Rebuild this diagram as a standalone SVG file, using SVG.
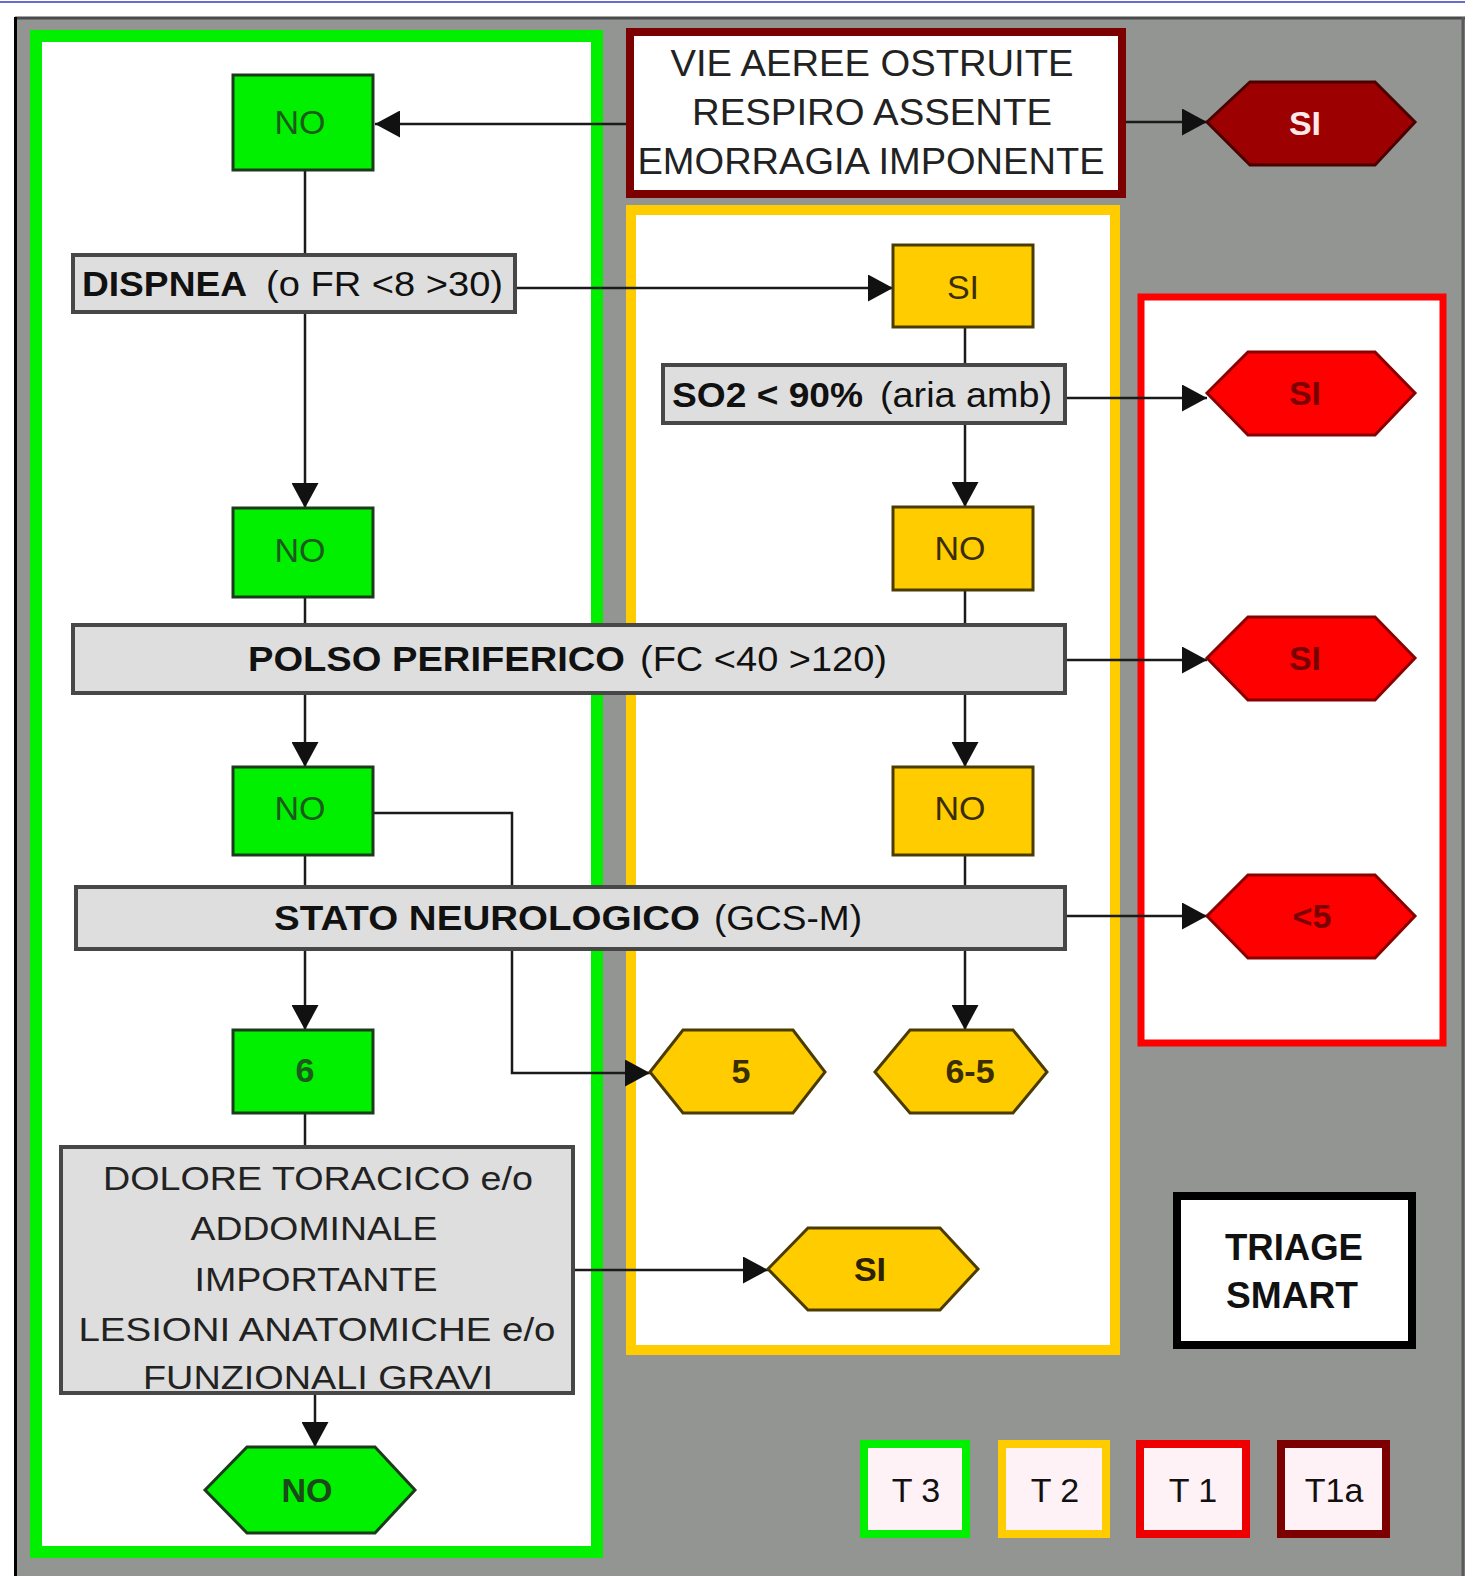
<svg xmlns="http://www.w3.org/2000/svg" width="1465" height="1576" viewBox="0 0 1465 1576">
<style>
text{font-family:"Liberation Sans",Arial,sans-serif;}
.gbox{fill:#00f000;stroke:#1c3a1c;stroke-width:3;}
.ybox{fill:#ffcc00;stroke:#4a3c00;stroke-width:3;}
.cbox{fill:#dedede;stroke:#474747;stroke-width:4;}
.conn{fill:none;stroke:#1a1a1a;stroke-width:2.5;}
.b{font-weight:bold;}
.t35{font-size:35px;fill:#111;}
.tg{font-size:34px;fill:#1d5a1d;text-anchor:middle;}
.ty{font-size:34px;fill:#3a2e00;text-anchor:middle;}
.hx{font-size:34px;font-weight:bold;text-anchor:middle;}
.mid{text-anchor:middle;}
</style>
<defs>
<marker id="ah" viewBox="0 0 25 27" refX="25" refY="13.5" markerWidth="25" markerHeight="27" markerUnits="userSpaceOnUse" orient="auto">
<path d="M0,0 L25,13.5 L0,27 z" fill="#111"/>
</marker>
</defs>

<!-- background -->
<rect x="0" y="0" width="1465" height="1576" fill="#ffffff"/>
<line x1="0" y1="2" x2="1465" y2="2" stroke="#6a6ad0" stroke-width="2"/>
<rect x="15" y="17" width="1450" height="1559" fill="#939593"/>
<line x1="15" y1="18" x2="1465" y2="18" stroke="#4a4a4a" stroke-width="3"/>
<line x1="15.5" y1="17" x2="15.5" y2="1576" stroke="#000" stroke-width="3"/>
<line x1="1463" y1="17" x2="1463" y2="1576" stroke="#5a5a5a" stroke-width="3"/>

<!-- frames -->
<g id="frame-green"><rect x="36" y="36" width="561" height="1516" fill="#fff" stroke="#00f000" stroke-width="12"/></g>
<g id="frame-yellow"><rect x="631" y="210" width="484" height="1140" fill="#fff" stroke="#ffcc00" stroke-width="10"/></g>
<g id="frame-red"><rect x="1141" y="297" width="302" height="746" fill="#fff" stroke="#ff0000" stroke-width="7"/></g>

<!-- connectors -->
<g id="connectors">
<line class="conn" x1="627" y1="124" x2="375" y2="124" marker-end="url(#ah)"/>
<line class="conn" x1="1126" y1="122" x2="1207" y2="122" marker-end="url(#ah)"/>
<line class="conn" x1="305" y1="170" x2="305" y2="255"/>
<line class="conn" x1="515" y1="288" x2="893" y2="288" marker-end="url(#ah)"/>
<line class="conn" x1="305" y1="312" x2="305" y2="508" marker-end="url(#ah)"/>
<line class="conn" x1="305" y1="597" x2="305" y2="625"/>
<line class="conn" x1="305" y1="693" x2="305" y2="767" marker-end="url(#ah)"/>
<line class="conn" x1="305" y1="855" x2="305" y2="887"/>
<line class="conn" x1="305" y1="949" x2="305" y2="1030" marker-end="url(#ah)"/>
<line class="conn" x1="305" y1="1113" x2="305" y2="1147"/>
<line class="conn" x1="315" y1="1393" x2="315" y2="1447" marker-end="url(#ah)"/>
<line class="conn" x1="573" y1="1270" x2="768" y2="1270" marker-end="url(#ah)"/>
<polyline class="conn" points="373,813 512,813 512,887"/>
<polyline class="conn" points="512,949 512,1073 650,1073" marker-end="url(#ah)"/>
<line class="conn" x1="965" y1="327" x2="965" y2="365"/>
<line class="conn" x1="1065" y1="398" x2="1207" y2="398" marker-end="url(#ah)"/>
<line class="conn" x1="965" y1="423" x2="965" y2="507" marker-end="url(#ah)"/>
<line class="conn" x1="965" y1="590" x2="965" y2="625"/>
<line class="conn" x1="1065" y1="660" x2="1207" y2="660" marker-end="url(#ah)"/>
<line class="conn" x1="965" y1="693" x2="965" y2="767" marker-end="url(#ah)"/>
<line class="conn" x1="965" y1="855" x2="965" y2="887"/>
<line class="conn" x1="1065" y1="916" x2="1207" y2="916" marker-end="url(#ah)"/>
<line class="conn" x1="965" y1="949" x2="965" y2="1030" marker-end="url(#ah)"/>
</g>

<!-- top box -->
<g id="vie">
<rect x="630" y="32" width="492" height="162" fill="#fff" stroke="#7d0000" stroke-width="8"/>
<text class="mid" x="872" y="76" font-size="36" fill="#222" textLength="403" lengthAdjust="spacingAndGlyphs">VIE AEREE OSTRUITE</text>
<text class="mid" x="872" y="125" font-size="36" fill="#222" textLength="360" lengthAdjust="spacingAndGlyphs">RESPIRO ASSENTE</text>
<text class="mid" x="871" y="174" font-size="36" fill="#222" textLength="467" lengthAdjust="spacingAndGlyphs">EMORRAGIA IMPONENTE</text>
</g>
<g id="hex-t1a">
<polygon points="1207,122 1250,82 1375,82 1415,122 1375,165 1250,165" fill="#9c0000" stroke="#4a0000" stroke-width="3"/>
<text class="hx" x="1305" y="135" fill="#ffe8e8">SI</text>
</g>

<!-- green column -->
<g id="no1"><rect class="gbox" x="233" y="75" width="140" height="95"/><text class="tg" x="300" y="134">NO</text></g>
<g id="dispnea">
<rect class="cbox" x="73" y="255" width="442" height="57"/>
<text class="t35 b" x="82" y="296" textLength="165" lengthAdjust="spacingAndGlyphs">DISPNEA</text>
<text class="t35" x="266" y="296" textLength="237" lengthAdjust="spacingAndGlyphs">(o FR &lt;8 &gt;30)</text>
</g>
<g id="no2"><rect class="gbox" x="233" y="508" width="140" height="89"/><text class="tg" x="300" y="562">NO</text></g>
<g id="polso">
<rect class="cbox" x="73" y="625" width="992" height="68"/>
<text class="t35 b" x="248" y="671" textLength="377" lengthAdjust="spacingAndGlyphs">POLSO PERIFERICO</text>
<text class="t35" x="640" y="671" textLength="247" lengthAdjust="spacingAndGlyphs">(FC &lt;40 &gt;120)</text>
</g>
<g id="no3"><rect class="gbox" x="233" y="767" width="140" height="88"/><text class="tg" x="300" y="820">NO</text></g>
<g id="stato">
<rect class="cbox" x="76" y="887" width="989" height="62"/>
<text class="t35 b" x="274" y="930" textLength="426" lengthAdjust="spacingAndGlyphs">STATO NEUROLOGICO</text>
<text class="t35" x="714" y="930" textLength="148" lengthAdjust="spacingAndGlyphs">(GCS-M)</text>
</g>
<g id="six"><rect class="gbox" x="233" y="1030" width="140" height="83"/><text class="tg b" x="305" y="1082">6</text></g>
<g id="dolore">
<rect class="cbox" x="61" y="1147" width="512" height="246"/>
<text class="mid" x="318" y="1190" font-size="34" fill="#222" textLength="430" lengthAdjust="spacingAndGlyphs">DOLORE TORACICO e/o</text>
<text class="mid" x="314" y="1240" font-size="34" fill="#222" textLength="247" lengthAdjust="spacingAndGlyphs">ADDOMINALE</text>
<text class="mid" x="316" y="1291" font-size="34" fill="#222" textLength="243" lengthAdjust="spacingAndGlyphs">IMPORTANTE</text>
<text class="mid" x="317" y="1341" font-size="34" fill="#222" textLength="477" lengthAdjust="spacingAndGlyphs">LESIONI ANATOMICHE e/o</text>
<text class="mid" x="318" y="1389" font-size="34" fill="#222" textLength="350" lengthAdjust="spacingAndGlyphs">FUNZIONALI GRAVI</text>
</g>
<g id="hex-no">
<polygon points="205,1490 247,1447 375,1447 415,1490 375,1533 247,1533" fill="#00f000" stroke="#1c3a1c" stroke-width="3"/>
<text class="hx" x="307" y="1502" fill="#1a4a1a">NO</text>
</g>

<!-- yellow column -->
<g id="si-y"><rect class="ybox" x="893" y="245" width="140" height="82"/><text class="ty" x="963" y="299">SI</text></g>
<g id="so2">
<rect class="cbox" x="663" y="365" width="402" height="58"/>
<text class="t35 b" x="672" y="407" textLength="191" lengthAdjust="spacingAndGlyphs">SO2 &lt; 90%</text>
<text class="t35" x="880" y="407" textLength="172" lengthAdjust="spacingAndGlyphs">(aria amb)</text>
</g>
<g id="no-y1"><rect class="ybox" x="893" y="507" width="140" height="83"/><text class="ty" x="960" y="560">NO</text></g>
<g id="no-y2"><rect class="ybox" x="893" y="767" width="140" height="88"/><text class="ty" x="960" y="820">NO</text></g>
<g id="hex-5">
<polygon points="650,1072 683,1030 793,1030 825,1072 793,1113 683,1113" fill="#ffcc00" stroke="#4a3c00" stroke-width="3"/>
<text class="hx" x="741" y="1083" fill="#3a2e00">5</text>
</g>
<g id="hex-65">
<polygon points="875,1072 910,1030 1013,1030 1047,1072 1013,1113 910,1113" fill="#ffcc00" stroke="#4a3c00" stroke-width="3"/>
<text class="hx" x="970" y="1083" fill="#3a2e00">6-5</text>
</g>
<g id="hex-si-y">
<polygon points="768,1269 808,1228 940,1228 978,1269 940,1310 808,1310" fill="#ffcc00" stroke="#4a3c00" stroke-width="3"/>
<text class="hx" x="870" y="1281" fill="#2a2200">SI</text>
</g>

<!-- red column -->
<g id="hex-r1">
<polygon points="1207,393 1248,352 1375,352 1415,393 1375,435 1248,435" fill="#ff0000" stroke="#8a0000" stroke-width="3"/>
<text class="hx" x="1305" y="405" fill="#7a0000">SI</text>
</g>
<g id="hex-r2">
<polygon points="1207,658 1248,617 1375,617 1415,658 1375,700 1248,700" fill="#ff0000" stroke="#8a0000" stroke-width="3"/>
<text class="hx" x="1305" y="670" fill="#7a0000">SI</text>
</g>
<g id="hex-r3">
<polygon points="1207,916 1248,875 1375,875 1415,916 1375,958 1248,958" fill="#ff0000" stroke="#8a0000" stroke-width="3"/>
<text class="hx" x="1312" y="928" fill="#7a0000">&lt;5</text>
</g>

<!-- title -->
<g id="triage">
<rect x="1177" y="1196" width="235" height="149" fill="#fff" stroke="#000" stroke-width="8"/>
<text class="mid b" x="1294" y="1260" font-size="36" fill="#111" textLength="138" lengthAdjust="spacingAndGlyphs">TRIAGE</text>
<text class="mid b" x="1292" y="1308" font-size="36" fill="#111" textLength="132" lengthAdjust="spacingAndGlyphs">SMART</text>
</g>

<!-- legend -->
<g id="leg-t3"><rect x="864" y="1444" width="102" height="90" fill="#fff2f6" stroke="#00f000" stroke-width="8"/><text class="mid" x="916" y="1502" font-size="34" fill="#111">T 3</text></g>
<g id="leg-t2"><rect x="1002" y="1444" width="104" height="90" fill="#fff2f6" stroke="#ffcc00" stroke-width="8"/><text class="mid" x="1055" y="1502" font-size="34" fill="#111">T 2</text></g>
<g id="leg-t1"><rect x="1140" y="1444" width="106" height="90" fill="#fff2f6" stroke="#ee0000" stroke-width="8"/><text class="mid" x="1193" y="1502" font-size="34" fill="#111">T 1</text></g>
<g id="leg-t1a"><rect x="1281" y="1444" width="105" height="90" fill="#fff2f6" stroke="#7d0000" stroke-width="8"/><text class="mid" x="1334" y="1502" font-size="34" fill="#111">T1a</text></g>
</svg>
